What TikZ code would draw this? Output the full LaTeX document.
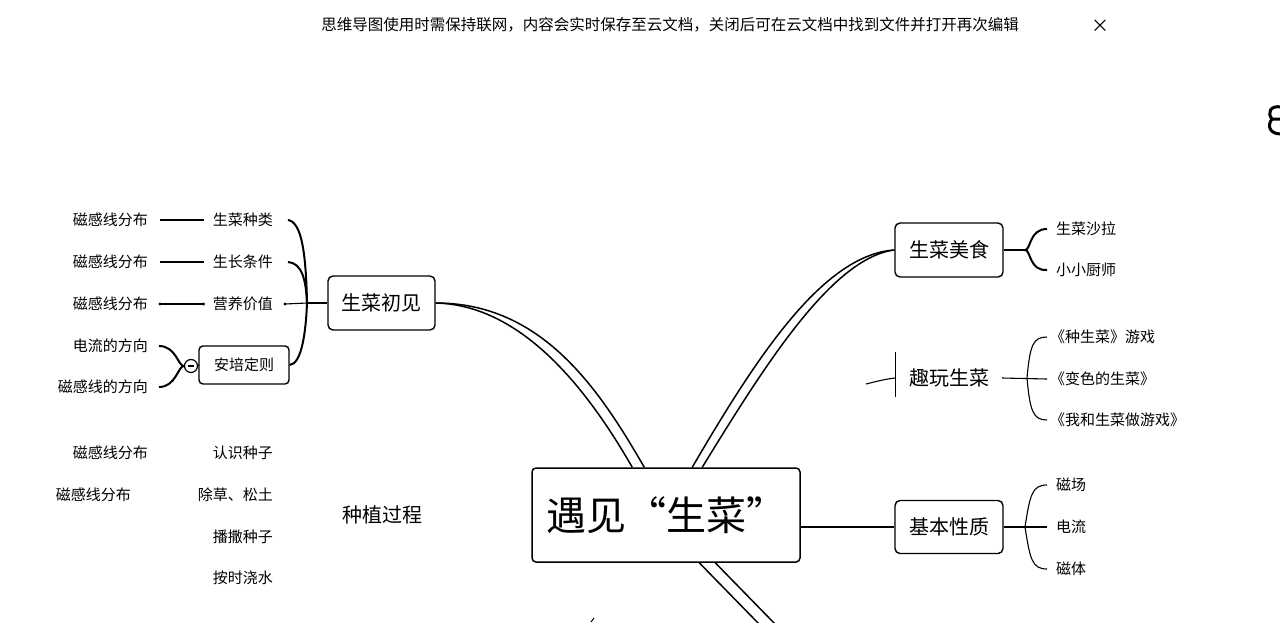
\documentclass[tikz,border=0pt]{standalone}
\usepackage{fontspec}
\setmainfont{Noto Sans CJK SC}
\begin{document}
\begin{tikzpicture}[x=1pt,y=-1pt,
  leaf/.style={inner sep=0pt, font=\fontsize{15}{17}\selectfont},
  topic/.style={draw, rounded corners=5pt, line width=1.4pt, inner sep=0pt,
    minimum width=108pt, minimum height=54pt, font=\fontsize{20}{24}\selectfont},
  plain/.style={inner sep=0pt, font=\fontsize{20}{24}\selectfont},
  link/.style={line width=2pt},
  fine/.style={line width=1.1pt},
  dbl/.style={line width=1.5pt},
]
\useasboundingbox (0,0) rectangle (1280,622);

% notice bar
\node[inner sep=0pt, font=\fontsize{15.5}{18}\selectfont] (banner) at (670,25)
  {思维导图使用时需保持联网，内容会实时保存至云文档，关闭后可在云文档中找到文件并打开再次编辑};
\node[inner sep=0pt, font=\fontsize{18}{20}\selectfont] (close) at (1100,26) {×};

% central topic
\node[draw, rounded corners=4pt, line width=1.5pt, inner sep=0pt,
  minimum width=268pt, minimum height=94pt, font=\fontsize{40}{46}\selectfont]
  (root) at (666,515) {遇见“生菜”};

% main topics
\node[topic, minimum width=107pt] (first) at (381.5,303) {生菜初见};
\node[topic] (food) at (949,250) {生菜美食};
\node[plain] (play) at (949,378) {趣玩生菜};
\node[topic, minimum height=53pt] (basic) at (949,527) {基本性质};
\node[plain] (grow) at (382,515) {种植过程};

% left subtopics
\node[leaf, anchor=east] (k1) at (273,220) {生菜种类};
\node[leaf, anchor=east] (k2) at (273,262) {生长条件};
\node[leaf, anchor=east] (k3) at (273,304) {营养价值};
\node[draw, rounded corners=4pt, line width=1.4pt, inner sep=0pt,
  minimum width=90pt, minimum height=38pt, font=\fontsize{15}{17}\selectfont]
  (ampere) at (244,365) {安培定则};
\node[leaf, anchor=east] (m1) at (148,220) {磁感线分布};
\node[leaf, anchor=east] (m2) at (148,262) {磁感线分布};
\node[leaf, anchor=east] (m3) at (148,304) {磁感线分布};
\node[leaf, anchor=east] (cur) at (148,346) {电流的方向};
\node[leaf, anchor=east] (fld) at (148,387) {磁感线的方向};
\node[draw, circle, line width=1.2pt, minimum size=13pt, inner sep=0pt] (fold) at (191,366) {};
\draw[line width=1.2pt] ([xshift=-3pt]fold.center) -- ([xshift=3pt]fold.center);

% planting process leaves
\node[leaf, anchor=east] (p1) at (148,453) {磁感线分布};
\node[leaf, anchor=east] (p2) at (131,495) {磁感线分布};
\node[leaf, anchor=east] (g1) at (273,453) {认识种子};
\node[leaf, anchor=east] (g2) at (273,495) {除草、松土};
\node[leaf, anchor=east] (g3) at (273,537) {播撒种子};
\node[leaf, anchor=east] (g4) at (273,578) {按时浇水};

% right leaves
\node[leaf, anchor=west] (f1) at (1056,229) {生菜沙拉};
\node[leaf, anchor=west] (f2) at (1056,270) {小小厨师};
\node[leaf, anchor=west] (q1) at (1050,337) {《种生菜》游戏};
\node[leaf, anchor=west] (q2) at (1050,379) {《变色的生菜》};
\node[leaf, anchor=west] (q3) at (1050,420) {《我和生菜做游戏》};
\node[leaf, anchor=west] (b1) at (1056,485) {磁场};
\node[leaf, anchor=west] (b2) at (1056,527) {电流};
\node[leaf, anchor=west] (b3) at (1056,569) {磁体};

% junction points
\coordinate (lj) at (307,303);
\coordinate (fj) at (1025,250);
\coordinate (qj) at (1027,378);
\coordinate (bj) at (1025,527);

% central connectors (double strokes)
\draw[dbl] (first.east) .. controls (520,305) and (585,385) .. ([xshift=101pt]root.north west);
\draw[dbl] (first.east) .. controls (540,303) and (597,385) .. ([xshift=113pt]root.north west);
\draw[dbl] ([xshift=161pt]root.north west) .. controls (755,360) and (822,255) .. (food.west);
\draw[dbl] ([xshift=171pt]root.north west) .. controls (765,365) and (832,258) .. (food.west);
\draw[dbl] ([xshift=168pt]root.south west) -- (760,625);
\draw[dbl] ([xshift=184pt]root.south west) -- (776,625);
\draw[link] (root.east |- basic.west) -- (basic.west);

% 生菜初见 branch
\draw[link] (lj) -- (first.west);
\draw[link] (lj) .. controls (306,255) and (302,222) .. ([xshift=15pt]k1.east);
\draw[link] (lj) .. controls (306,280) and (302,263) .. ([xshift=15pt]k2.east);
\draw[fine] (lj) -- ([xshift=12pt]k3.east);
\fill ([xshift=12pt]k3.east) circle (1.6pt);
\draw[link] (lj) .. controls (306,330) and (302,364) .. (ampere.east);
\draw[link] ([xshift=12pt]m1.east) -- ([xshift=-9pt]k1.west);
\draw[link] ([xshift=12pt]m2.east) -- ([xshift=-9pt]k2.west);
\draw[fine] ([xshift=12pt]m3.east) -- ([xshift=-9pt]k3.west);
\fill ([xshift=12pt]m3.east) circle (1.6pt);
\fill ([xshift=-9pt]k3.west) circle (1.6pt);
\draw[link] ([xshift=11pt]cur.east) .. controls (176,346) and (178,366) .. (fold.west);
\draw[link] ([xshift=11pt]fld.east) .. controls (176,387) and (178,366) .. (fold.west);
\draw[link] (fold.east) -- (ampere.west);

% 生菜美食 branch
\draw[link] (food.east) -- (fj);
\draw[link] (fj) .. controls (1031,250) and (1029,229) .. ([xshift=-9pt]f1.west);
\draw[link] (fj) .. controls (1031,250) and (1029,271) .. ([xshift=-9pt]f2.west);

% 趣玩生菜 branch
\draw[fine] (866,384) .. controls (878,381) and (886,379) .. (895,378);
\draw[line width=0.8pt] (895,352) -- (895,397);
\draw[fine] (1002,378) -- ([xshift=-3pt]q2.west);
\draw[fine] (qj) .. controls (1030,345) and (1033,337) .. ([xshift=-3pt]q1.west);
\draw[fine] (qj) .. controls (1030,411) and (1033,420) .. ([xshift=-3pt]q3.west);

% 基本性质 branch
\draw[link] (basic.east) -- ([xshift=-9pt]b2.west);
\draw[fine] (bj) .. controls (1030,495) and (1032,485) .. ([xshift=-9pt]b1.west);
\draw[fine] (bj) .. controls (1030,559) and (1032,569) .. ([xshift=-9pt]b3.west);

% stray marks at the edges
\draw[line width=1pt] (591,622) -- (594,618);
\draw[line width=3pt] (1281,107) .. controls (1270,105) and (1267,113) .. (1272,119) -- (1281,119);
\draw[line width=3pt] (1272,119) .. controls (1267,125) and (1269,134) .. (1281,134);
\end{tikzpicture}
\end{document}
